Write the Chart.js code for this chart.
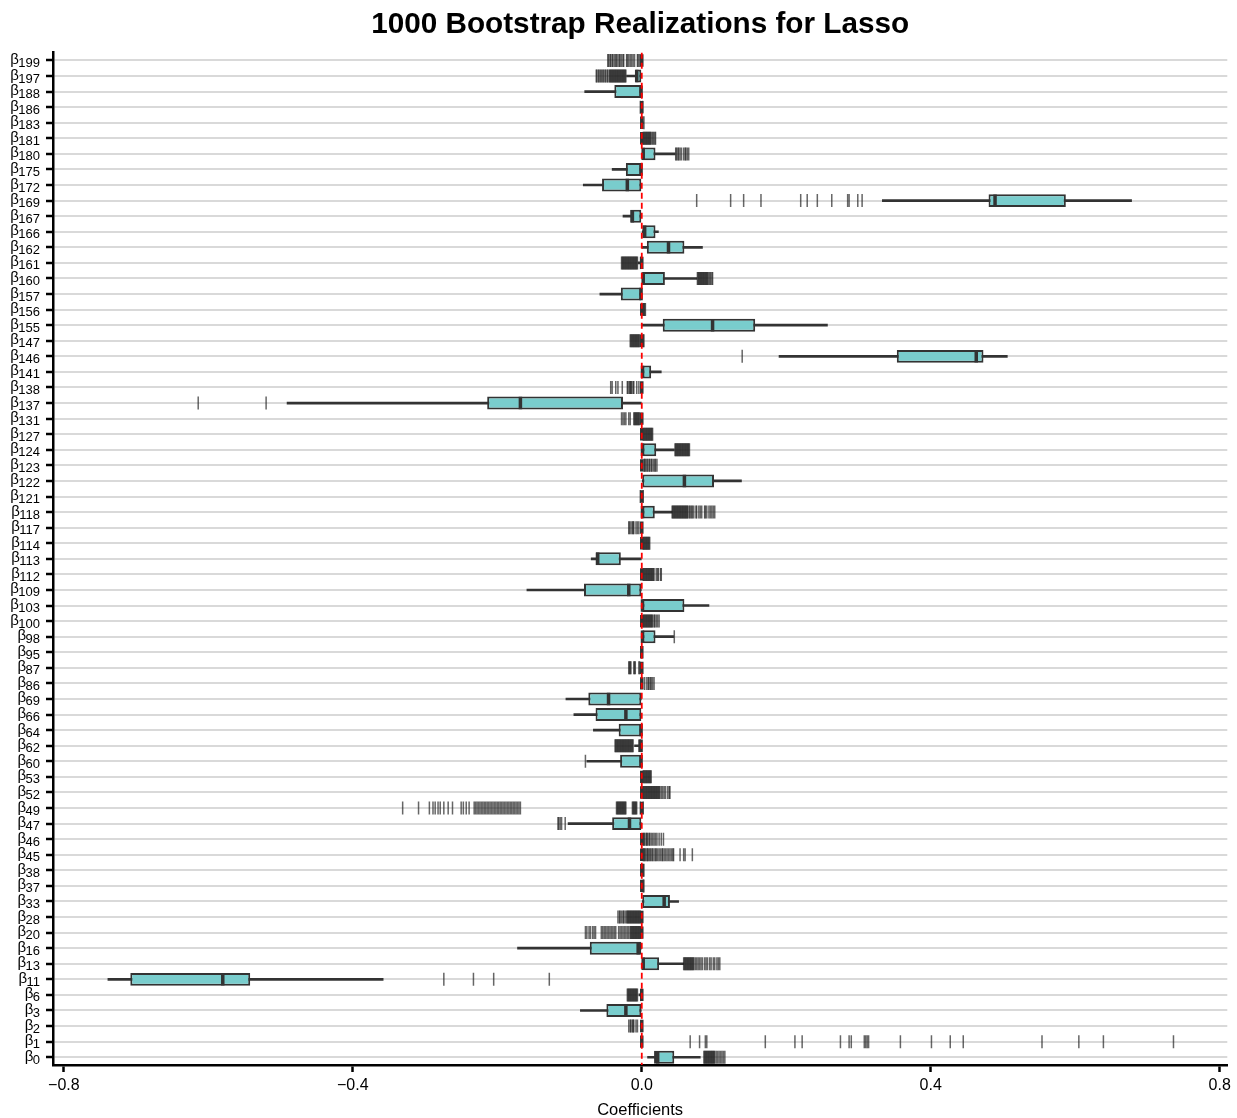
<!DOCTYPE html>
<html>
<head>
<meta charset="utf-8">
<title>1000 Bootstrap Realizations for Lasso</title>
<script src="https://cdn.jsdelivr.net/npm/chart.js@4.4.0/dist/chart.umd.min.js"></script>
<style>
  html, body { margin: 0; padding: 0; background: #fff; }
  #wrap { width: 1237px; height: 1118px; }
</style>
</head>
<body>
<div id="wrap"><canvas id="lassoChart"></canvas></div>
<script>
// coefficients, top to bottom
const categories = ['β199','β197','β188','β186','β183','β181','β180','β175','β172','β169',
	'β167','β166','β162','β161','β160','β157','β156','β155','β147','β146',
	'β141','β138','β137','β131','β127','β124','β123','β122','β121','β118',
	'β117','β114','β113','β112','β109','β103','β100','β98','β95','β87',
	'β86','β69','β66','β64','β62','β60','β53','β52','β49','β47',
	'β46','β45','β38','β37','β33','β28','β20','β16','β13','β11',
	'β6','β3','β2','β1','β0'];

const whiskerLow = [0,-0.021,-0.079,0,0,0,0,-0.041,-0.081,0.333,
	-0.026,0,0,-0.005,0,-0.058,0,0,0,0.190,
	0,0,-0.491,0,0,0,0,0,0,0,
	0,0,-0.070,0,-0.159,0,0,0,0,0,
	0,-0.105,-0.094,-0.067,-0.010,-0.076,0,0,0,-0.102,
	0,0,0,0,0,0,0,-0.172,0,-0.739,
	-0.004,-0.085,0,0,0.008];
const q1 = [0,-0.009,-0.038,0,0,0,0,-0.022,-0.055,0.480,
	-0.016,0,0.007,-0.003,0,-0.029,0,0.029,0,0.353,
	0,0,-0.214,0,0,0,0,0,0,0,
	0,0,-0.064,0,-0.080,0,0,0,0,0,
	0,-0.074,-0.064,-0.032,-0.005,-0.030,0,0,0,-0.041,
	0,0,0,0,0,0,0,-0.072,0,-0.708,
	-0.002,-0.049,0,0,0.017];
const medians = [0,-0.007,-0.001,0,0,0,0.002,-0.001,-0.020,0.489,
	-0.013,0.004,0.037,0,0.002,-0.001,0,0.098,0,0.463,
	0.001,0,-0.168,0,0,0.001,0,0.059,0,0.001,
	0,0,-0.061,0,-0.018,0.001,0,0.001,0,0,
	0,-0.046,-0.022,-0.001,-0.001,-0.001,0,0,0,-0.017,
	0,0,0,0,0.031,0,0,-0.005,0.002,-0.580,
	0,-0.022,0,0,0.022];
const q3 = [0,0,0,0,0.002,0,0.019,0,0,0.587,
	0,0.019,0.059,0,0.032,0,0,0.157,0,0.473,
	0.013,0,-0.026,0,0,0.020,0,0.100,0,0.018,
	0,0,-0.029,0,0,0.059,0,0.019,0,0,
	0,0,0,0,0,0,0,0,0,0,
	0,0,0,0,0.039,0,0,0,0.024,-0.542,
	0,0,0,0,0.045];
const whiskerHigh = [0,0,0,0,0.002,0,0.046,0,0,0.678,
	0,0.023,0.084,0,0.076,0,0,0.257,0,0.506,
	0.027,0,0,0,0,0.045,0,0.138,0,0.042,
	0,0,0,0,0,0.093,0,0.044,0,0,
	0,0,0,0,0,0,0,0,0,0,
	0,0,0,0,0.051,0,0,0,0.058,-0.358,
	0,0,0,0,0.081];

// outlying bootstrap estimates per coefficient (same order as categories)
const outliers = [
	[-0.047,-0.046,-0.044,-0.043,-0.041,-0.040,-0.038,-0.036,-0.035,-0.033,-0.031,-0.030,-0.028,-0.026,-0.025,-0.021,-0.020,-0.018,-0.016,-0.014,-0.012,-0.010,-0.006,-0.005,-0.003],
	[-0.063,-0.062,-0.060,-0.059,-0.057,-0.056,-0.054,-0.053,-0.051,-0.050,-0.048,-0.047,-0.045,-0.044,-0.043,-0.042,-0.041,-0.040,-0.039,-0.038,-0.037,-0.036,-0.035,-0.034,-0.033,-0.032,-0.031,-0.030,-0.029,-0.028,-0.027,-0.026,-0.025,-0.024,-0.023,-0.022],
	[],
	[-0.002,0.001],
	[0.003],
	[0.002,0.003,0.004,0.005,0.006,0.007,0.008,0.009,0.010,0.011,0.012,0.013,0.015,0.016,0.018,0.019],
	[0.047,0.048,0.050,0.051,0.053,0.055,0.058,0.060,0.061,0.063,0.065],
	[],
	[],
	[0.076,0.123,0.141,0.165,0.220,0.229,0.243,0.263,0.285,0.287,0.299,0.305],
	[],
	[],
	[],
	[-0.028,-0.027,-0.026,-0.025,-0.024,-0.023,-0.022,-0.021,-0.020,-0.019,-0.018,-0.017,-0.016,-0.015,-0.014,-0.013,-0.012,-0.011,-0.010,-0.009,-0.008,-0.007,-0.006],
	[0.077,0.078,0.079,0.080,0.081,0.082,0.083,0.084,0.085,0.086,0.087,0.088,0.089,0.090,0.091,0.092,0.094,0.095,0.097,0.098],
	[],
	[0.002,0.003,0.004,0.005],
	[],
	[-0.016,-0.015,-0.014,-0.013,-0.012,-0.011,-0.010,-0.009,-0.008,-0.007,-0.006,-0.005,-0.004,-0.003,0.002,0.003],
	[0.139],
	[],
	[-0.043,-0.041,-0.036,-0.033,-0.027,-0.020,-0.019,-0.017,-0.016,-0.015,-0.014,-0.012,-0.011,-0.007,-0.004],
	[-0.614,-0.520],
	[-0.028,-0.026,-0.024,-0.022,-0.018,-0.016,-0.011,-0.010,-0.009,-0.008,-0.007,-0.006,-0.005,-0.004,-0.003],
	[0.002,0.003,0.004,0.005,0.006,0.007,0.008,0.009,0.010,0.011,0.012,0.013,0.014,0.015],
	[0.046,0.047,0.048,0.049,0.050,0.051,0.052,0.053,0.054,0.055,0.056,0.057,0.058,0.059,0.060,0.061,0.062,0.063,0.064,0.065,0.066],
	[0.003,0.004,0.005,0.007,0.008,0.010,0.011,0.013,0.014,0.016,0.018,0.019,0.021],
	[],
	[-0.002,0.002],
	[0.042,0.043,0.044,0.045,0.046,0.047,0.048,0.049,0.050,0.051,0.052,0.053,0.054,0.055,0.056,0.057,0.058,0.059,0.060,0.061,0.062,0.063,0.064,0.066,0.067,0.069,0.070,0.072,0.075,0.076,0.079,0.081,0.083,0.087,0.088,0.090,0.093,0.095,0.097,0.099,0.101],
	[-0.018,-0.017,-0.015,-0.013,-0.012,-0.011,-0.008,-0.006,-0.004],
	[0.002,0.003,0.004,0.005,0.006,0.007,0.008,0.009,0.010,0.011],
	[],
	[0.002,0.003,0.004,0.005,0.006,0.007,0.008,0.009,0.010,0.011,0.012,0.013,0.014,0.015,0.016,0.017,0.020,0.022,0.023,0.026,0.027],
	[],
	[],
	[0.002,0.003,0.004,0.005,0.006,0.007,0.008,0.009,0.010,0.011,0.012,0.013,0.014,0.015,0.017,0.018,0.020,0.022,0.024],
	[0.045],
	[],
	[-0.018,-0.017,-0.016,-0.015,-0.011,-0.010,-0.009,-0.004,-0.003],
	[0.004,0.007,0.009,0.010,0.012,0.013,0.015,0.017],
	[],
	[],
	[],
	[-0.037,-0.036,-0.035,-0.034,-0.033,-0.032,-0.031,-0.030,-0.029,-0.028,-0.027,-0.026,-0.025,-0.024,-0.023,-0.022,-0.021,-0.020,-0.019,-0.018,-0.017,-0.016,-0.015,-0.014,-0.013,-0.012],
	[-0.078],
	[0.002,0.003,0.004,0.005,0.006,0.007,0.008,0.009,0.010,0.011,0.012,0.013],
	[0.002,0.003,0.004,0.005,0.006,0.007,0.008,0.009,0.010,0.011,0.012,0.013,0.014,0.015,0.016,0.017,0.018,0.019,0.020,0.021,0.022,0.023,0.024,0.025,0.027,0.029,0.031,0.033,0.036,0.038,0.039],
	[-0.331,-0.309,-0.294,-0.289,-0.286,-0.282,-0.279,-0.274,-0.268,-0.262,-0.250,-0.247,-0.243,-0.239,-0.232,-0.230,-0.228,-0.226,-0.224,-0.222,-0.220,-0.218,-0.216,-0.214,-0.212,-0.210,-0.208,-0.206,-0.204,-0.202,-0.200,-0.198,-0.196,-0.194,-0.192,-0.190,-0.188,-0.186,-0.184,-0.182,-0.180,-0.178,-0.176,-0.174,-0.172,-0.170,-0.168,
		-0.035,-0.034,-0.033,-0.032,-0.031,-0.030,-0.029,-0.028,-0.027,-0.026,-0.025,-0.024,-0.023,-0.022,-0.013,-0.012,-0.011,-0.010,-0.009,-0.008,-0.007,-0.002,0.002],
	[-0.116,-0.115,-0.113,-0.111,-0.106],
	[0.002,0.003,0.004,0.006,0.007,0.008,0.010,0.011,0.013,0.015,0.017,0.019,0.021,0.024,0.027,0.030],
	[0.002,0.003,0.004,0.005,0.007,0.008,0.009,0.011,0.012,0.014,0.015,0.017,0.019,0.020,0.022,0.024,0.026,0.028,0.029,0.031,0.033,0.035,0.037,0.039,0.041,0.043,0.044,0.053,0.058,0.060,0.070],
	[0.002,0.003],
	[0.002,0.003],
	[],
	[-0.033,-0.031,-0.030,-0.028,-0.026,-0.025,-0.023,-0.021,-0.020,-0.019,-0.018,-0.017,-0.016,-0.015,-0.014,-0.013,-0.012,-0.011,-0.010,-0.009,-0.008,-0.007,-0.006,-0.005,-0.004,-0.003,-0.002],
	[-0.078,-0.076,-0.073,-0.071,-0.068,-0.066,-0.064,-0.056,-0.054,-0.052,-0.050,-0.048,-0.046,-0.044,-0.042,-0.040,-0.038,-0.036,-0.032,-0.030,-0.028,-0.026,-0.024,-0.022,-0.020,-0.018,-0.016,-0.015,-0.014,-0.013,-0.012,-0.011,-0.010,-0.009,-0.008,-0.007,-0.006,-0.005,-0.004,-0.003,-0.002],
	[],
	[0.058,0.059,0.060,0.061,0.062,0.063,0.064,0.065,0.066,0.067,0.068,0.069,0.070,0.071,0.072,0.074,0.076,0.078,0.080,0.082,0.084,0.087,0.089,0.091,0.094,0.096,0.099,0.101,0.104,0.106,0.108],
	[-0.274,-0.233,-0.205,-0.128],
	[-0.020,-0.019,-0.018,-0.017,-0.016,-0.015,-0.014,-0.013,-0.012,-0.011,-0.010,-0.009,-0.008,-0.007,-0.006],
	[],
	[-0.018,-0.016,-0.015,-0.013,-0.012,-0.011,-0.008,-0.006],
	[0.067,0.080,0.088,0.090,0.171,0.212,0.222,0.275,0.287,0.290,0.308,0.310,0.312,0.314,0.358,0.401,0.427,0.445,0.554,0.605,0.639,0.736],
	[0.086,0.087,0.088,0.089,0.090,0.091,0.092,0.093,0.094,0.095,0.096,0.097,0.098,0.099,0.100,0.101,0.103,0.105,0.107,0.109,0.111,0.113,0.115]
];

const xTicks = [-0.8, -0.4, 0.0, 0.4, 0.8];

const FONT = 'Liberation Sans';

// build datasets from the arrays above
const whiskerData = categories.map((c, i) => whiskerHigh[i] > whiskerLow[i] ? [whiskerLow[i], whiskerHigh[i]] : null);
const boxData = categories.map((c, i) => q3[i] > q1[i] ? [q1[i], q3[i]] : null);
const medianData = categories.map((c, i) => ({ x: medians[i], y: c }));
const outlierData = [];
outliers.forEach((row, i) => {
	row.forEach(v => outlierData.push({ x: v, y: categories[i] }));
});

// red dashed reference line at zero
const zeroLine = {
	id: 'zeroLine',
	afterDatasetsDraw(chart) {
		const { ctx, chartArea, scales } = chart;
		const x = scales.x.getPixelForValue(0);
		ctx.save();
		ctx.strokeStyle = '#ff0000';
		ctx.lineWidth = 1.8;
		ctx.setLineDash([6, 4]);
		ctx.beginPath();
		ctx.moveTo(x, chartArea.top);
		ctx.lineTo(x, chartArea.bottom);
		ctx.stroke();
		ctx.restore();
	}
};

// beta labels with subscript index
const betaLabels = {
	id: 'betaLabels',
	afterDraw(chart) {
		const { ctx, scales } = chart;
		const right = 40;
		ctx.save();
		ctx.fillStyle = '#000';
		ctx.textAlign = 'right';
		ctx.textBaseline = 'alphabetic';
		categories.forEach((lab, i) => {
			const y = scales.y.getPixelForValue(i);
			const sub = lab.slice(1);
			ctx.font = '13px "' + FONT + '"';
			const w = ctx.measureText(sub).width;
			ctx.fillText(sub, right, y + 6.5);
			ctx.font = '15px "' + FONT + '"';
			ctx.fillText(lab[0], right - w + 0.5, y + 3.5);
		});
		ctx.restore();
	}
};

const ctx = document.getElementById('lassoChart').getContext('2d');
new Chart(ctx, {
	type: 'bar',
	data: {
		labels: categories,
		datasets: [
			{
				label: 'whiskers',
				data: whiskerData,
				backgroundColor: '#333333',
				borderWidth: 0,
				barThickness: 2,
				grouped: false,
				order: 4
			},
			{
				label: 'boxes',
				data: boxData,
				backgroundColor: '#79CDCD',
				borderColor: '#333333',
				borderWidth: 2,
				borderSkipped: false,
				barPercentage: 0.83,
				categoryPercentage: 1,
				grouped: false,
				order: 3
			},
			{
				type: 'scatter',
				label: 'outliers',
				data: outlierData,
				pointStyle: 'line',
				rotation: 90,
				radius: 6.5,
				borderWidth: 1.5,
				borderColor: 'rgba(30, 30, 30, 0.68)',
				order: 2
			},
			{
				type: 'scatter',
				label: 'medians',
				data: medianData,
				pointStyle: 'line',
				rotation: 90,
				radius: 6.2,
				borderWidth: 3.5,
				borderColor: '#333333',
				order: 1
			}
		]
	},
	options: {
		indexAxis: 'y',
		responsive: true,
		maintainAspectRatio: false,
		animation: false,
		layout: { padding: { top: 0, right: 7, bottom: 0, left: 0 } },
		plugins: {
			legend: { display: false },
			tooltip: { enabled: false },
			title: {
				display: true,
				text: '1000 Bootstrap Realizations for Lasso',
				fullSize: false,
				color: '#000',
				font: { family: FONT, size: 29.7, weight: 'bold' },
				padding: { top: 6.5, bottom: 10.5 }
			}
		},
		scales: {
			x: {
				type: 'linear',
				position: 'bottom',
				min: -0.815,
				max: 0.8105,
				afterBuildTicks: scale => {
					scale.ticks = xTicks.map(v => ({ value: v }));
				},
				afterFit: scale => {
					scale.height = 53;
					scale.paddingLeft = 0;
					scale.paddingRight = 0;
				},
				ticks: {
					color: '#000',
					font: { family: FONT, size: 16 },
					padding: 4,
					maxRotation: 0,
					callback: v => (v < 0 ? '\u2212' : '') + Math.abs(v).toFixed(1)
				},
				grid: { drawOnChartArea: false, tickLength: 7, tickWidth: 2.5, tickColor: '#000' },
				border: { color: '#000', width: 2.5 },
				title: {
					display: true,
					text: 'Coefficients',
					color: '#000',
					font: { family: FONT, size: 16.5 },
					padding: { top: 0, bottom: -2 }
				}
			},
			y: {
				type: 'category',
				offset: true,
				afterFit: scale => { scale.width = 53; },
				ticks: { display: false, autoSkip: false },
				grid: { offset: false, color: '#d9d9d9', lineWidth: 2, tickLength: 7, tickWidth: 2.5, tickColor: '#000' },
				border: { color: '#000', width: 2.5 }
			}
		}
	},
	plugins: [zeroLine, betaLabels]
});
</script>
</body>
</html>
